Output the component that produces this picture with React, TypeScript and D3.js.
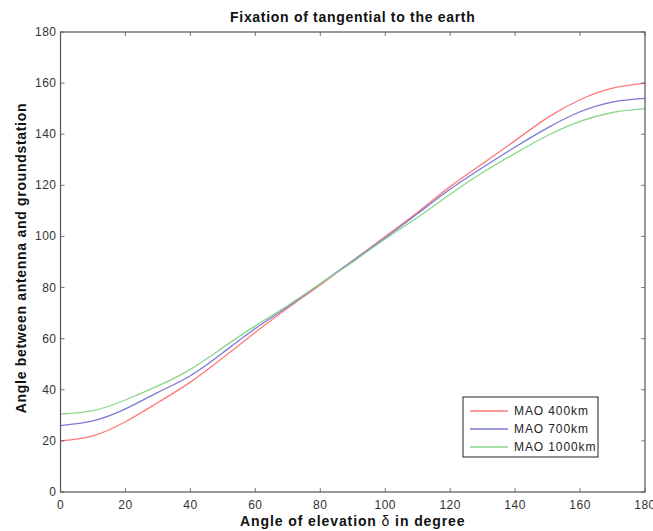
import React, { useEffect, useRef } from 'react';
import * as d3 from 'd3';

// elevation angle samples (degrees)
const elevation = [0, 10, 20, 30, 40, 50, 60, 70, 80, 90, 100, 110, 120, 130, 140, 150, 160, 170, 180];

const mao400 = [20, 22, 27.5, 35, 43, 52.5, 62.5, 72, 81, 90.5, 100, 109.5, 119.5, 128.5, 137.5, 146.5, 153.5, 158, 160];
const mao700 = [26, 27.8, 32.5, 39, 45.5, 54.5, 64, 72.5, 81.5, 90.5, 99.5, 109, 118.5, 127, 135, 142.5, 148.8, 152.6, 154];
const mao1000 = [30.5, 31.8, 36, 41.5, 48, 56.5, 65, 73, 81.5, 90, 99, 107.5, 116.5, 125, 132.5, 139.5, 145, 148.5, 150];

const seriesNames = ['MAO 400km', 'MAO 700km', 'MAO 1000km'];
const seriesColors = ['#ff7a7a', '#7a7ad6', '#8ad68a'];
const xTicks = [0, 20, 40, 60, 80, 100, 120, 140, 160, 180];
const yTicks = [0, 20, 40, 60, 80, 100, 120, 140, 160, 180];

const W = 653;
const H = 531;
const FONT = "'Liberation Sans', Arial, sans-serif";

export default function App() {
  const svgRef = useRef<SVGSVGElement>(null);

  useEffect(() => {
    const svg = d3.select(svgRef.current);
    svg.selectAll('*').remove();

    const left = 60.5, right = 645, top = 32, bottom = 492;
    const x = d3.scaleLinear().domain([0, 180]).range([left, right]);
    const y = d3.scaleLinear().domain([0, 180]).range([bottom, top]);

    svg.append('rect').attr('width', W).attr('height', H).attr('fill', '#fff');

    // curves
    const all = [mao400, mao700, mao1000];
    const line = d3.line<number>()
      .x((_, i) => x(elevation[i]))
      .y(d => y(d))
      .curve(d3.curveNatural);

    all.forEach((vals, k) => {
      svg.append('path')
        .attr('d', line(vals) as string)
        .attr('fill', 'none')
        .attr('stroke', seriesColors[k])
        .attr('stroke-width', 1.3);
    });

    // frame
    const axisColor = '#555';
    svg.append('rect')
      .attr('x', left).attr('y', top)
      .attr('width', right - left).attr('height', bottom - top)
      .attr('fill', 'none').attr('stroke', axisColor).attr('stroke-width', 1.2);

    const tickLen = 4;
    const g = svg.append('g').attr('font-family', FONT).attr('font-size', 12)
      .attr('letter-spacing', 0.5).attr('fill', '#333');

    xTicks.forEach(t => {
      const px = x(t);
      svg.append('line').attr('x1', px).attr('x2', px).attr('y1', bottom).attr('y2', bottom - tickLen)
        .attr('stroke', axisColor).attr('stroke-width', 0.8);
      svg.append('line').attr('x1', px).attr('x2', px).attr('y1', top).attr('y2', top + tickLen)
        .attr('stroke', axisColor).attr('stroke-width', 0.8);
      g.append('text').attr('x', px).attr('y', bottom + 17).attr('text-anchor', 'middle').text(t);
    });

    yTicks.forEach(t => {
      const py = y(t);
      svg.append('line').attr('x1', left).attr('x2', left + tickLen).attr('y1', py).attr('y2', py)
        .attr('stroke', axisColor).attr('stroke-width', 0.8);
      svg.append('line').attr('x1', right).attr('x2', right - tickLen).attr('y1', py).attr('y2', py)
        .attr('stroke', axisColor).attr('stroke-width', 0.8);
      g.append('text').attr('x', left - 4).attr('y', py + 4).attr('text-anchor', 'end').text(t);
    });

    // title and axis labels
    const cx = (left + right) / 2;
    svg.append('text').attr('x', cx).attr('y', 22).attr('text-anchor', 'middle')
      .attr('font-family', FONT).attr('font-size', 14).attr('letter-spacing', 0.7)
      .attr('font-weight', 'bold').attr('fill', '#111')
      .text('Fixation of tangential to the earth');

    const xl = svg.append('text').attr('x', cx).attr('y', 526).attr('text-anchor', 'middle')
      .attr('font-family', FONT).attr('font-size', 14).attr('letter-spacing', 0.9)
      .attr('font-weight', 'bold').attr('fill', '#111');
    xl.append('tspan').text('Angle of elevation ');
    xl.append('tspan').attr('font-weight', 'normal').text('δ');
    xl.append('tspan').text(' in degree');

    svg.append('text')
      .attr('transform', `translate(26, 258) rotate(-90)`)
      .attr('text-anchor', 'middle')
      .attr('font-family', FONT).attr('font-size', 14).attr('letter-spacing', 0.7)
      .attr('font-weight', 'bold').attr('fill', '#111')
      .text('Angle between antenna and groundstation');

    // legend
    const lg = svg.append('g').attr('transform', 'translate(463, 397)');
    lg.append('rect').attr('width', 135).attr('height', 60)
      .attr('fill', '#fff').attr('stroke', '#222').attr('stroke-width', 1);
    seriesNames.forEach((name, i) => {
      const ly = 14 + i * 18;
      lg.append('line').attr('x1', 7).attr('x2', 45).attr('y1', ly).attr('y2', ly)
        .attr('stroke', seriesColors[i]).attr('stroke-width', 1.3);
      lg.append('text').attr('x', 51).attr('y', ly + 4)
        .attr('font-family', FONT).attr('font-size', 12).attr('letter-spacing', 0.9)
        .attr('fill', '#222').text(name);
    });
  }, []);

  return (
    <svg ref={svgRef} width={W} height={H}
      style={{ position: 'absolute', left: 0, top: 0, display: 'block' }} />
  );
}
